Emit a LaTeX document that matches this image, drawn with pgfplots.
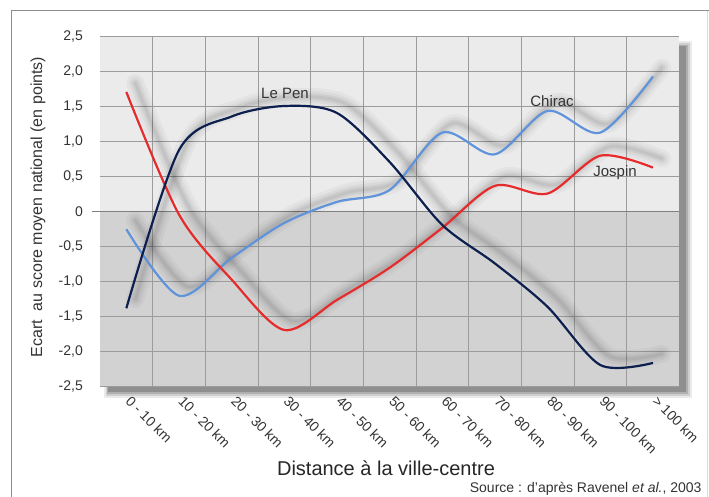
\documentclass[border=0pt]{standalone}
\usepackage{fontspec}
\setmainfont{Liberation Sans}
\usepackage{pgfplots}
\usepackage{pgfplotstable}
\pgfplotsset{compat=1.18}
\definecolor{lepen}{HTML}{0D1F4F}
\definecolor{chirac}{HTML}{5F93DA}
\definecolor{jospin}{HTML}{E52B2B}
\definecolor{upbg}{HTML}{EBEBEB}
\definecolor{lowbg}{HTML}{D2D2D2}
\definecolor{gridc}{HTML}{9C9C9C}
\definecolor{txt}{HTML}{333333}

\pgfplotstableread{
x chirac jospin lepen
0 -0.25 1.71 -1.38
1 -1.20 -0.04 0.88
2 -0.66 -0.97 1.36
3 -0.16 -1.69 1.51
4 0.14 -1.26 1.41
5 0.31 -0.80 0.71
6 1.13 -0.23 -0.19
7 0.82 0.37 -0.74
8 1.44 0.26 -1.36
9 1.13 0.80 -2.19
10 1.93 0.63 -2.16
}\data

\pgfplotsset{
  shad/.style={black, smooth, xshift=9pt, yshift=9pt, line cap=round},
}

\begin{document}
\begin{tikzpicture}
\path[use as bounding box] (0pt,0pt) rectangle (709pt,496pt);
% outer frame
\draw[black!45, line width=1pt] (11pt,-5pt) -- (11pt,485pt) -- (715pt,485pt);
\draw[black!15, line width=1pt] (707.5pt,485pt) -- (707.5pt,-5pt);
% plot drop shadow
\fill[black, opacity=0.08] (104pt,98pt) rectangle (692pt,455pt);
\fill[black, opacity=0.12] (106pt,100pt) rectangle (690pt,453pt);
\fill[black, opacity=0.15] (107pt,102pt) rectangle (688pt,451pt);
\fill[black, opacity=0.18] (108pt,104pt) rectangle (686pt,450pt);
\begin{axis}[
  at={(100pt,109.3pt)}, anchor=south west, scale only axis,
  width=579.3pt, height=350pt,
  xmin=-0.5, xmax=10.5, ymin=-2.5, ymax=2.5,
  axis line style={draw=none},
  major tick length=0pt,
  clip=false,
  xtick={0,...,10},
  xticklabels={0 - 10 km,10 - 20 km,20 - 30 km,30 - 40 km,40 - 50 km,50 - 60 km,60 - 70 km,70 - 80 km,80 - 90 km,90 - 100 km,> 100 km},
  ytick={-2.5,-2,-1.5,-1,-0.5,0,0.5,1,1.5,2,2.5},
  yticklabels={{-2,5},{-2,0},{-1,5},{-1,0},{-0,5},{0},{0,5},{1,0},{1,5},{2,0},{2,5}},
  ticklabel style={font=\fontsize{14}{16}\selectfont, text=txt},
  yticklabel style={anchor=east, inner sep=0pt, xshift=-17pt},
  xticklabel style={anchor=west, inner sep=0pt, xshift=2pt, yshift=-12pt, rotate=-45},
]
\fill[upbg] (-0.5,0) rectangle (10.5,2.5);
\fill[lowbg] (-0.5,-2.5) rectangle (10.5,0);
\pgfplotsinvokeforeach{-2.5,-2,-1.5,-1,-0.5,0.5,1,1.5,2,2.5}{
  \draw[gridc, line width=0.9pt] (-0.5,#1) -- (10.5,#1);
}
\pgfplotsinvokeforeach{0.5,1.5,2.5,3.5,4.5,5.5,6.5,7.5,8.5,9.5}{
  \draw[gridc, line width=0.9pt] (#1,-2.5) -- (#1,2.5);
}
\draw[black!50, line width=1.3pt] (-0.65,0) -- (10.5,0);
% shadows
\addplot[shad, opacity=0.03, line width=18pt] table[x=x,y=chirac]{\data};
\addplot[shad, opacity=0.04, line width=12pt] table[x=x,y=chirac]{\data};
\addplot[shad, opacity=0.05, line width=7pt] table[x=x,y=chirac]{\data};
\addplot[shad, opacity=0.05, line width=3pt] table[x=x,y=chirac]{\data};
\addplot[shad, opacity=0.03, line width=18pt] table[x=x,y=jospin]{\data};
\addplot[shad, opacity=0.04, line width=12pt] table[x=x,y=jospin]{\data};
\addplot[shad, opacity=0.05, line width=7pt] table[x=x,y=jospin]{\data};
\addplot[shad, opacity=0.05, line width=3pt] table[x=x,y=jospin]{\data};
\addplot[shad, opacity=0.03, line width=18pt] table[x=x,y=lepen]{\data};
\addplot[shad, opacity=0.04, line width=12pt] table[x=x,y=lepen]{\data};
\addplot[shad, opacity=0.05, line width=7pt] table[x=x,y=lepen]{\data};
\addplot[shad, opacity=0.05, line width=3pt] table[x=x,y=lepen]{\data};
% curves
\addplot[chirac, line width=2.2pt, smooth] table[x=x,y=chirac]{\data};
\addplot[jospin, line width=2.2pt, smooth] table[x=x,y=jospin]{\data};
\addplot[lepen, line width=2.2pt, smooth] table[x=x,y=lepen]{\data};
\end{axis}
% labels
\node[font=\fontsize{15}{17}\selectfont, text=txt] at (285pt,403pt) {Le Pen};
\node[font=\fontsize{15}{17}\selectfont, text=txt] at (552pt,395pt) {Chirac};
\node[font=\fontsize{15}{17}\selectfont, text=txt] at (615pt,323pt) {Jospin};
\node[rotate=90, font=\fontsize{16}{18}\selectfont, text=txt] at (38pt,289pt) {Ecart\ \ au score moyen national (en points)};
\node[anchor=base, font=\fontsize{20}{24}\selectfont, text=black!85] at (386pt,21pt) {Distance à la ville-centre};
\node[anchor=base east, font=\fontsize{14}{16}\selectfont, text=txt, inner sep=0pt] at (701.7pt,4pt) {Source : d'après Ravenel \textit{et al.}, 2003};
\end{tikzpicture}
\end{document}
